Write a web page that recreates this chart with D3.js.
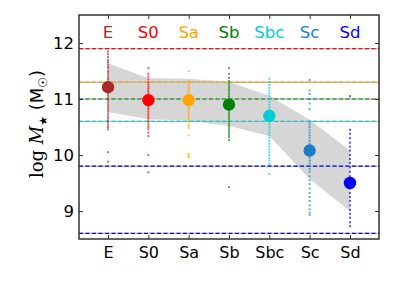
<!DOCTYPE html>
<html><head><meta charset="utf-8">
<script src="https://cdn.jsdelivr.net/npm/d3@7"></script>
<style>body{margin:0;background:#fff}svg{display:block}</style>
</head><body>
<svg id="c" width="399" height="299"></svg>
<script>
const categories = ["E","S0","Sa","Sb","Sbc","Sc","Sd"];
const colors = ["#a52a2a","#ff0000","#ffa500","#008000","#00ced1","#1a7dc8","#0000ff"];
const meanValues = [11.21, 10.98, 10.98, 10.90, 10.70, 10.08, 9.50];
const bandUpper = [11.64, 11.37, 11.36, 11.31, 11.06, 10.63, 10.08];
const bandLower = [10.77, 10.64, 10.61, 10.52, 10.34, 9.57, 9.00];
const refLines = [11.9, 11.3, 11.0, 10.6, 9.8, 8.6];
const refColors = ["#ff0000","#ffa500","#008000","#00ced1","#0000ff","#0000ff"];
const yTicks = [9, 10, 11, 12];
const galE = [11.85,11.8,11.75,11.7,11.66,11.62,11.58,11.55,11.5,11.46,11.42,11.38,11.35,11.31,11.27,11.24,11.2,11.17,11.14,11.1,11.06,11.02,10.98,10.94,10.9,10.86,10.82,10.78,10.74,10.7,10.66,10.62,10.58,10.54,10.5,10.46,10.05,9.88];
const galS0 = [11.55,11.45,11.4,11.35,11.3,11.26,11.22,11.18,11.14,11.1,11.06,11.02,10.98,10.94,10.9,10.86,10.82,10.78,10.74,10.7,10.66,10.62,10.58,10.54,10.5,10.46,10.4,10.34,10.0,9.69];
const galSa = [11.5,11.32,11.28,11.24,11.2,11.16,11.12,11.08,11.04,11.0,10.96,10.92,10.88,10.84,10.8,10.76,10.72,10.68,10.64,10.6,10.56,10.52,10.48,10.35,10.02,9.99,9.96];
const galSb = [11.55,11.45,11.38,11.32,11.28,11.24,11.2,11.16,11.12,11.08,11.04,11.0,10.96,10.92,10.88,10.84,10.8,10.76,10.72,10.68,10.64,10.6,10.56,10.52,10.48,10.44,10.4,10.36,10.32,10.27,9.43];
const galSbc = [11.36,11.3,11.25,11.2,11.15,11.1,11.05,11.0,10.95,10.9,10.85,10.8,10.75,10.7,10.65,10.6,10.55,10.5,10.45,10.4,10.35,10.3,10.25,10.2,10.15,10.1,10.05,10.0,9.95,9.9,9.84,9.66];
const galSc = [11.34,11.15,11.09,11.0,10.92,10.82,10.6,10.55,10.5,10.45,10.4,10.35,10.3,10.25,10.2,10.15,10.1,10.05,10.0,9.95,9.9,9.85,9.8,9.75,9.7,9.62,9.55,9.48,9.4,9.32,9.25,9.18,9.1,9.03,8.97,8.93];
const galSd = [11.05,10.45,10.38,10.3,10.22,10.15,10.08,10.0,9.93,9.86,9.78,9.7,9.62,9.55,9.48,9.4,9.32,9.25,9.18,9.1,9.02,8.95,8.88,8.8,8.73];
const galaxies = [galE, galS0, galSa, galSb, galSbc, galSc, galSd];

const svg = d3.select("#c");
const L = 79, R = 379, T = 15, B = 239;
const x = d3.scaleLinear().domain([-0.72, 6.72]).range([L, R]);
const y = d3.scaleLinear().domain([8.5, 12.5]).range([B, T]);

const idx = d3.range(categories.length);
svg.append("path")
  .datum(idx)
  .attr("d", d3.area().x(i => x(i)).y0(i => y(bandLower[i])).y1(i => y(bandUpper[i])))
  .attr("fill", "#d4d4d4").attr("fill-opacity", 0.95);

refLines.forEach((v, k) => {
  svg.append("line").attr("x1", L).attr("x2", R).attr("y1", y(v)).attr("y2", y(v))
    .attr("stroke", "#bbbbbb").attr("stroke-width", 1.4);
  svg.append("line").attr("x1", L).attr("x2", R).attr("y1", y(v)).attr("y2", y(v))
    .attr("stroke", refColors[k]).attr("stroke-width", 1.2).attr("stroke-dasharray", "4,2.5");
});

galaxies.forEach((arr, i) => {
  svg.append("g").selectAll("rect").data(arr).join("rect")
    .attr("x", x(i) - 1).attr("y", d => y(d) - 1)
    .attr("width", 2).attr("height", 2)
    .attr("fill", colors[i]).attr("fill-opacity", 0.65);
});

svg.append("g").selectAll("circle").data(meanValues).join("circle")
  .attr("cx", (d, i) => x(i)).attr("cy", d => y(d)).attr("r", 6.2)
  .attr("fill", (d, i) => colors[i]);

svg.append("g").selectAll("text").data(categories).join("text")
  .attr("x", (d, i) => x(i)).attr("y", 38).attr("text-anchor", "middle")
  .attr("font-family", "DejaVu Sans").attr("font-size", 16.5)
  .attr("fill", (d, i) => colors[i]).text(d => d);

svg.append("rect").attr("x", L).attr("y", T).attr("width", R - L).attr("height", B - T)
  .attr("fill", "none").attr("stroke", "#333").attr("stroke-width", 1.5);

const yAxisL = d3.axisLeft(y).tickValues(yTicks).tickSize(-4).tickPadding(5).tickFormat(d3.format("d"));
const gL = svg.append("g").attr("transform", `translate(${L},0)`).call(yAxisL);
gL.select(".domain").remove();
gL.selectAll("text").attr("font-family", "DejaVu Sans").attr("font-size", 16.5).attr("fill", "#000");
const gR = svg.append("g").attr("transform", `translate(${R},0)`).call(d3.axisRight(y).tickValues(yTicks).tickSize(-4).tickFormat(""));
gR.select(".domain").remove();
const xAxisB = d3.axisBottom(x).tickValues(idx).tickSize(-4).tickPadding(8).tickFormat(i => categories[i]);
const gB = svg.append("g").attr("transform", `translate(0,${B})`).call(xAxisB);
gB.select(".domain").remove();
gB.selectAll("text").attr("font-family", "DejaVu Sans").attr("font-size", 16).attr("fill", "#000");
const gT = svg.append("g").attr("transform", `translate(0,${T})`).call(d3.axisTop(x).tickValues(idx).tickSize(-4).tickFormat(""));
gT.select(".domain").remove();
svg.selectAll(".tick line").attr("stroke", "#333");

const yl = svg.append("text").attr("transform", "translate(43,124) rotate(-90)")
  .attr("text-anchor", "middle").attr("font-size", 18).attr("fill", "#000");
yl.append("tspan").attr("font-family", "DejaVu Serif").text("log ");
yl.append("tspan").attr("font-family", "DejaVu Serif").attr("font-style", "italic").text("M");
yl.append("tspan").attr("font-family", "DejaVu Sans").attr("font-size", 11).attr("dy", 4).text("★");
yl.append("tspan").attr("font-family", "DejaVu Sans").attr("dy", -4).text(" (M");
yl.append("tspan").attr("font-family", "DejaVu Sans").attr("font-size", 12).attr("dy", 4).text("☉");
yl.append("tspan").attr("font-family", "DejaVu Sans").attr("dy", -4).text(")");
</script>
</body></html>
